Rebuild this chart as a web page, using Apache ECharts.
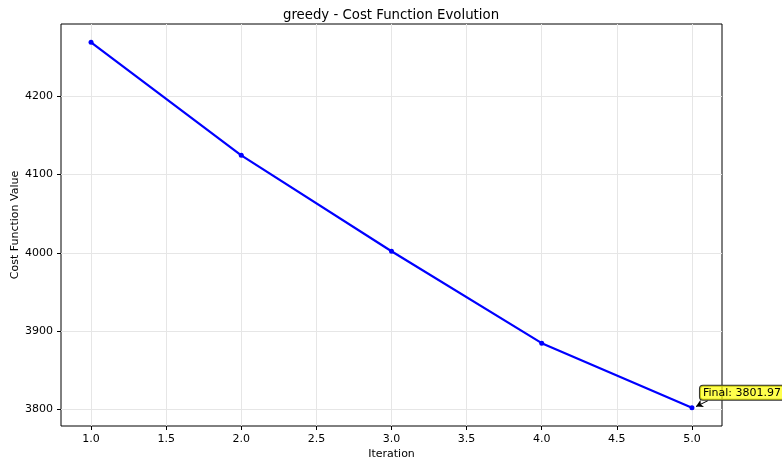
<!DOCTYPE html>
<html>
<head>
<meta charset="utf-8">
<script src="https://cdn.jsdelivr.net/npm/echarts@6/dist/echarts.min.js"></script>
<style>html,body{margin:0;padding:0;background:#fff;}#c{width:782px;height:461px;}</style>
</head>
<body>
<div id="c"></div>
<script>
const iterations = [1, 2, 3, 4, 5];
const costValues = [4269, 4124.5, 4002, 3884.5, 3801.97];
const xTicks = [1.0, 1.5, 2.0, 2.5, 3.0, 3.5, 4.0, 4.5, 5.0];
const yTicks = [3800, 3900, 4000, 4100, 4200];
const titleText = 'greedy - Cost Function Evolution';
const finalLabel = 'Final: ' + costValues[costValues.length - 1].toFixed(2);

const font = 'DejaVu Sans';
const chart = echarts.init(document.getElementById('c'), null, {renderer: 'canvas'});
const lastX = iterations[iterations.length - 1];
const lastY = costValues[costValues.length - 1];
const yMinD = Math.min(...costValues), yMaxD = Math.max(...costValues);
const yPad = (yMaxD - yMinD) * 0.05;
const xPad = (lastX - iterations[0]) * 0.05;

chart.setOption({
  animation: false,
  backgroundColor: '#fff',
  title: {
    text: titleText, left: 'center', top: 4,
    textStyle: {fontFamily: font, fontSize: 13.3, fontWeight: 'normal', color: '#000'}
  },
  grid: {left: 61, top: 24, right: 60, bottom: 35, show: true, borderColor: '#000', borderWidth: 1,
    backgroundColor: 'transparent', containLabel: false, outerBoundsMode: 'none'},
  xAxis: {
    type: 'value', min: iterations[0] - xPad, max: lastX + xPad,
    name: 'Iteration', nameLocation: 'middle', nameGap: 23, nameMoveOverlap: false,
    nameTextStyle: {fontFamily: font, fontSize: 11, color: '#000'},
    axisLine: {show: false},
    axisTick: {show: true, customValues: xTicks, length: 4, lineStyle: {color: '#000'}},
    axisLabel: {customValues: xTicks, margin: 8, fontFamily: font, fontSize: 11, color: '#000',
      formatter: v => v.toFixed(1)},
    splitLine: {show: true, customValues: xTicks, lineStyle: {color: '#e6e6e6', width: 1}}
  },
  yAxis: {
    type: 'value', min: yMinD - yPad, max: yMaxD + yPad,
    name: 'Cost Function Value', nameLocation: 'middle', nameGap: 40, nameMoveOverlap: false,
    nameTextStyle: {fontFamily: font, fontSize: 11, color: '#000'},
    axisLine: {show: false},
    axisTick: {show: true, customValues: yTicks, length: 4, lineStyle: {color: '#000'}},
    axisLabel: {customValues: yTicks, margin: 8, fontFamily: font, fontSize: 11, color: '#000',
      formatter: v => String(Math.round(v))},
    splitLine: {show: true, customValues: yTicks, lineStyle: {color: '#e6e6e6', width: 1}}
  },
  series: [{
    type: 'line',
    data: iterations.map((x, i) => [x, costValues[i]]),
    lineStyle: {color: '#0000ff', width: 2.2},
    itemStyle: {color: '#0000ff'},
    symbol: 'circle', symbolSize: 5, showSymbol: true,
    markPoint: {
      symbol: 'circle', symbolSize: 0,
      data: [{coord: [lastX, lastY], value: finalLabel}],
      label: {
        show: true, position: [8, -22], formatter: finalLabel,
        fontFamily: font, fontSize: 11, color: '#000',
        backgroundColor: 'rgba(255,255,0,0.7)', borderColor: '#333', borderWidth: 1, borderRadius: 3,
        padding: [2, 3, 1, 3]
      }
    },
    markLine: {
      silent: true, symbol: ['none', 'arrow'], symbolSize: [6, 7],
      lineStyle: {color: '#000', width: 1, type: 'solid'},
      label: {show: false},
      data: [[{coord: [lastX + 0.106, lastY + 9]}, {coord: [lastX + 0.027, lastY + 1.5]}]]
    }
  }]
});
</script>
</body>
</html>
